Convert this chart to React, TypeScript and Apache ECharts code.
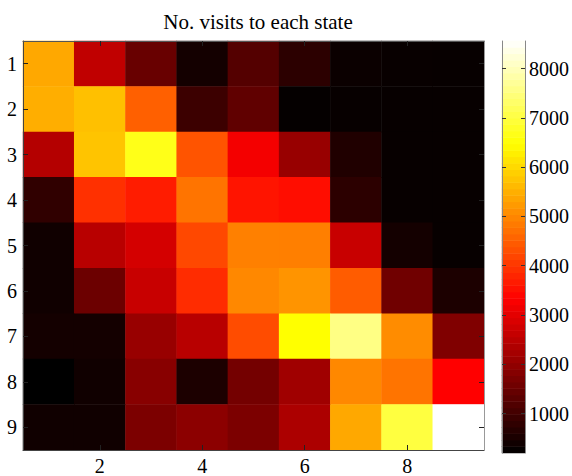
import React, { useEffect, useRef } from "react";
import * as echarts from "echarts";

const TITLE = "No. visits to each state";
const X_CATEGORIES = ["1", "2", "3", "4", "5", "6", "7", "8", "9"];
const Y_CATEGORIES = ["1", "2", "3", "4", "5", "6", "7", "8", "9"];

// visits per row (state row 1..9), columns 1..9
const ROW_1 = [5400, 2560, 1480, 445, 1235, 740, 330, 300, 290];
const ROW_2 = [5480, 5690, 4510, 940, 1380, 260, 280, 280, 280];
const ROW_3 = [2410, 5740, 6670, 4370, 3200, 2070, 590, 290, 280];
const ROW_4 = [790, 3925, 3680, 4760, 3580, 3490, 740, 290, 280];
const ROW_5 = [400, 2460, 2810, 4220, 4910, 4900, 2660, 445, 290];
const ROW_6 = [400, 1530, 2660, 3880, 5010, 5160, 4460, 1580, 545];
const ROW_7 = [445, 445, 2070, 2460, 4270, 6470, 7550, 5060, 1770];
const ROW_8 = [200, 400, 1870, 545, 1625, 2170, 5010, 4760, 3335];
const ROW_9 = [400, 400, 1720, 1920, 1720, 2310, 5400, 6990, 8560];
const ROWS = [ROW_1, ROW_2, ROW_3, ROW_4, ROW_5, ROW_6, ROW_7, ROW_8, ROW_9];

const COLORBAR_TICKS = [1000, 2000, 3000, 4000, 5000, 6000, 7000, 8000];
const VMIN = 200;
const VMAX = 8560;
const COLORBAR_LEVELS = 64;

// MATLAB "hot" colormap stops, evenly spaced
const HOT_COLORS = [
  "#000000",
  "#550000",
  "#aa0000",
  "#ff0000",
  "#ff5500",
  "#ffaa00",
  "#ffff00",
  "#ffff80",
  "#ffffff",
];

const FONT = "'Liberation Serif', 'Times New Roman', serif";

export default function App() {
  const ref = useRef<HTMLDivElement>(null);

  useEffect(() => {
    if (!ref.current) return;
    const chart = echarts.init(ref.current, undefined, { renderer: "svg" });

    const cells: number[][] = [];
    ROWS.forEach((row, r) => {
      row.forEach((v, c) => cells.push([c, r, v]));
    });

    const barCats = Array.from({ length: COLORBAR_LEVELS }, (_, i) => String(i));
    const barData = barCats.map((_, i) => [
      0,
      i,
      VMIN + ((i + 0.5) * (VMAX - VMIN)) / COLORBAR_LEVELS,
    ]);

    const evenIdx = (i: number) => i % 2 === 1;

    const option: any = {
      animation: false,
      backgroundColor: "#ffffff",
      textStyle: { fontFamily: FONT },
      title: {
        text: TITLE,
        left: 253,
        textAlign: "center",
        top: 6,
        textStyle: {
          fontFamily: FONT,
          fontSize: 21,
          fontWeight: "normal",
          color: "#000",
        },
      },
      grid: [
        { left: 23, top: 41, width: 461, height: 411, containLabel: false },
        { left: 502, top: 41, width: 23, height: 412, containLabel: false },
      ],
      xAxis: [
        {
          type: "category",
          gridIndex: 0,
          data: X_CATEGORIES,
          position: "bottom",
          axisLine: { show: true, lineStyle: { color: "#444", width: 1 } },
          axisTick: {
            show: true,
            inside: true,
            length: 5,
            alignWithLabel: true,
            interval: evenIdx,
            lineStyle: { color: "#222" },
          },
          axisLabel: {
            interval: evenIdx,
            fontFamily: FONT,
            fontSize: 20,
            color: "#000",
            margin: 6,
          },
          splitLine: { show: false },
          z: 10,
        },
        {
          type: "category",
          gridIndex: 0,
          data: X_CATEGORIES,
          position: "top",
          axisLine: { show: true, lineStyle: { color: "#555", width: 1 } },
          axisTick: {
            show: true,
            inside: true,
            length: 5,
            alignWithLabel: true,
            interval: evenIdx,
            lineStyle: { color: "#222" },
          },
          axisLabel: { show: false },
          splitLine: { show: false },
          z: 10,
        },
        {
          type: "category",
          gridIndex: 1,
          data: [""],
          show: false,
        },
      ],
      yAxis: [
        {
          type: "category",
          gridIndex: 0,
          data: Y_CATEGORIES,
          inverse: true,
          position: "left",
          axisLine: { show: true, lineStyle: { color: "#444", width: 1 } },
          axisTick: {
            show: true,
            inside: true,
            length: 5,
            alignWithLabel: true,
            lineStyle: { color: "#222" },
          },
          axisLabel: {
            fontFamily: FONT,
            fontSize: 20,
            color: "#000",
            margin: 6,
          },
          splitLine: { show: false },
          z: 10,
        },
        {
          type: "category",
          gridIndex: 0,
          data: Y_CATEGORIES,
          inverse: true,
          position: "right",
          axisLine: { show: true, lineStyle: { color: "#999", width: 1 } },
          axisTick: {
            show: true,
            inside: true,
            length: 5,
            alignWithLabel: true,
            lineStyle: { color: "#222" },
          },
          axisLabel: { show: false },
          splitLine: { show: false },
          z: 10,
        },
        {
          type: "category",
          gridIndex: 1,
          data: barCats,
          show: false,
        },
        {
          type: "value",
          gridIndex: 1,
          position: "right",
          min: VMIN,
          max: VMAX,
          axisLine: { show: true, lineStyle: { color: "#888", width: 1 } },
          axisTick: {
            show: true,
            inside: true,
            length: 4,
            customValues: COLORBAR_TICKS,
            lineStyle: { color: "#333" },
          },
          axisLabel: {
            customValues: COLORBAR_TICKS,
            formatter: (v: number) => String(v),
            fontFamily: FONT,
            fontSize: 20,
            color: "#000",
            margin: 4,
          },
          splitLine: { show: false },
          z: 10,
        },
        {
          type: "value",
          gridIndex: 1,
          position: "left",
          min: VMIN,
          max: VMAX,
          axisLine: { show: true, lineStyle: { color: "#888", width: 1 } },
          axisTick: {
            show: true,
            inside: true,
            length: 4,
            customValues: COLORBAR_TICKS,
            lineStyle: { color: "#333" },
          },
          axisLabel: { show: false },
          splitLine: { show: false },
          z: 10,
        },
      ],
      visualMap: {
        show: false,
        type: "continuous",
        min: VMIN,
        max: VMAX,
        dimension: 2,
        seriesIndex: [0, 1],
        inRange: { color: HOT_COLORS },
      },
      series: [
        {
          type: "heatmap",
          xAxisIndex: 0,
          yAxisIndex: 0,
          data: cells,
          itemStyle: { borderWidth: 0 },
          emphasis: { disabled: true },
        },
        {
          type: "heatmap",
          xAxisIndex: 2,
          yAxisIndex: 2,
          data: barData,
          itemStyle: { borderWidth: 0 },
          emphasis: { disabled: true },
        },
      ],
    };

    chart.setOption(option);
    return () => chart.dispose();
  }, []);

  return (
    <div
      ref={ref}
      style={{ position: "fixed", left: 0, top: 0, width: 572, height: 476 }}
    />
  );
}
